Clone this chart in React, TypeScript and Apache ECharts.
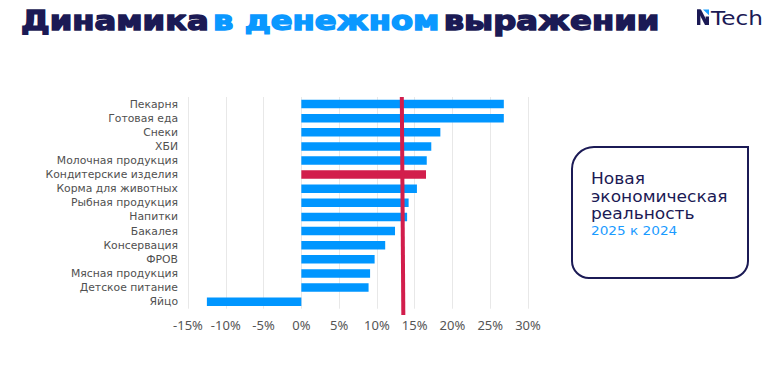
import React, { useEffect, useRef } from "react";
import * as echarts from "echarts";

const categories = [
  "Пекарня",
  "Готовая еда",
  "Снеки",
  "ХБИ",
  "Молочная продукция",
  "Кондитерские изделия",
  "Корма для животных",
  "Рыбная продукция",
  "Напитки",
  "Бакалея",
  "Консервация",
  "ФРОВ",
  "Мясная продукция",
  "Детское питание",
  "Яйцо",
];
const growth = [26.8, 26.8, 18.4, 17.2, 16.6, 16.5, 15.3, 14.2, 14.0, 12.4, 11.1, 9.7, 9.1, 8.9, -12.5];
const highlighted = ["Кондитерские изделия"];
const averageGrowth = 13.3;
const xTicks = { min: -15, max: 30, interval: 5 };

const NAVY = "#1b1a55";
const BLUE = "#0096ff";
const RED = "#d21e4c";

export default function App() {
  const ref = useRef<HTMLDivElement>(null);
  useEffect(() => {
    document.body.style.margin = "0";
    const chart = echarts.init(ref.current!, undefined, { renderer: "svg" });
    const option: any = {
      animation: false,
      grid: { left: 188, right: 252, top: 97, bottom: 62.3, containLabel: false },
      xAxis: {
        type: "value",
        min: xTicks.min,
        max: xTicks.max,
        interval: xTicks.interval,
        axisLine: { show: false },
        axisTick: { show: false },
        splitLine: { lineStyle: { color: "#e8e8e8", width: 1 } },
        axisLabel: {
          formatter: (v: number) => `${v}%`,
          fontFamily: "Noto Sans",
          fontSize: 13,
          color: "#555",
          margin: 10,
        },
      },
      yAxis: {
        type: "category",
        data: categories,
        inverse: true,
        axisLine: { show: false },
        axisTick: { show: false },
        splitLine: { show: false },
        axisLabel: {
          interval: 0,
          fontFamily: "DejaVu Sans",
          fontSize: 10.8,
          lineHeight: 12,
          color: "#505050",
          margin: 10,
        },
      },
      series: [
        {
          type: "bar",
          barWidth: 8.5,
          data: growth.map((v, i) => ({
            value: v,
            itemStyle: { color: highlighted.includes(categories[i]) ? RED : BLUE },
          })),
        },
      ],
    };
    chart.setOption(option);
    const lx = chart.convertToPixel({ xAxisIndex: 0 }, averageGrowth) as number;
    const boxText = (text: string, y: number, fill: string, size: number, sx: number) => ({
      type: "text",
      x: 591,
      y,
      scaleX: sx,
      style: { text, fill, fontFamily: "DejaVu Sans", fontSize: size, verticalAlign: "middle" },
    });
    chart.setOption({
      graphic: [
        {
          type: "line",
          shape: { x1: lx, y1: 97, x2: lx + 1.5, y2: 315 },
          style: { stroke: RED, lineWidth: 4 },
          z: 100,
        },
        {
          type: "text",
          x: 21,
          y: 21,
          scaleX: 1.24,
          style: {
            text: "{a|Динамика} {b|в денежном} {a|выражении}",
            verticalAlign: "middle",
            rich: {
              a: { fill: NAVY, stroke: NAVY, lineWidth: 1.4, fontFamily: "DejaVu Sans", fontWeight: "bold", fontSize: 26 },
              b: { fill: "#0a98ff", stroke: "#0a98ff", lineWidth: 1.4, fontFamily: "DejaVu Sans", fontWeight: "bold", fontSize: 26 },
            },
          },
        },
        {
          type: "group",
          x: 697,
          y: 9.5,
          children: [
            { type: "rect", shape: { x: 0, y: 0, width: 3.4, height: 15.5 }, style: { fill: NAVY } },
            { type: "polygon", shape: { points: [[0, 0], [4, 0], [12, 15.5], [8, 15.5]] }, style: { fill: NAVY } },
            { type: "rect", shape: { x: 8.6, y: 7, width: 3.4, height: 8.5 }, style: { fill: NAVY } },
            { type: "polygon", shape: { points: [[6, 0], [12, 0], [12, 5.8]] }, style: { fill: "#1aa0ff" } },
          ],
        },
        {
          type: "text",
          x: 711,
          y: 18,
          scaleX: 1.22,
          style: { text: "Tech", fill: NAVY, fontFamily: "DejaVu Sans", fontSize: 19, verticalAlign: "middle" },
        },
        {
          type: "rect",
          shape: { x: 572, y: 147, width: 176, height: 131, r: [22, 0, 17, 17] },
          style: { fill: "#fff", stroke: NAVY, lineWidth: 2 },
        },
        boxText("Новая", 179, NAVY, 15.5, 1.1),
        boxText("экономическая", 196.5, NAVY, 15.5, 1.1),
        boxText("реальность", 214, NAVY, 15.5, 1.1),
        boxText("2025 к 2024", 230.5, "#1a9bff", 13, 1.05),
      ],
    });
    return () => chart.dispose();
  }, []);
  return <div ref={ref} style={{ width: 780, height: 371 }} />;
}
